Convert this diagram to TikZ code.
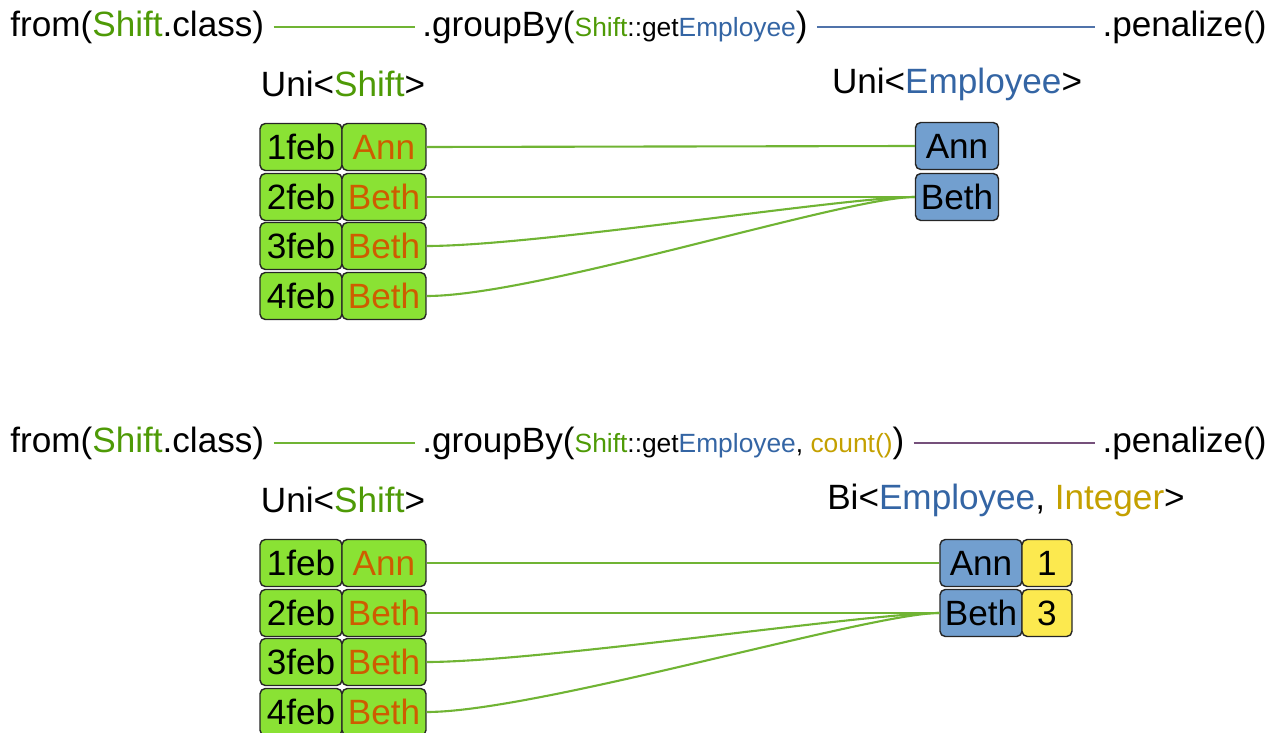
\documentclass[tikz,border=0pt]{standalone}
\usepackage{fontspec}
\setmainfont{Liberation Sans}
\definecolor{shiftgreen}{HTML}{4E9A06}
\definecolor{shiftfill}{HTML}{8AE234}
\definecolor{empblue}{HTML}{3465A4}
\definecolor{empfill}{HTML}{729FCF}
\definecolor{nameorange}{HTML}{CE5C00}
\definecolor{intyellow}{HTML}{C4A000}
\definecolor{intfill}{HTML}{FCE94F}
\definecolor{linkgreen}{RGB}{112,180,52}
\definecolor{flowblue}{RGB}{80,115,170}
\definecolor{flowpurple}{HTML}{75507B}
\newcommand{\codesmall}{\fontsize{15}{18}\selectfont}

\begin{document}
\begin{tikzpicture}
[
    x=0.02cm, y=-0.02cm,
    every node/.style={font=\fontsize{20}{24}\selectfont},
    code/.style={inner sep=0pt},
    flow/.style={line width=0.9pt, shorten <=0.18cm, shorten >=0.14cm},
    link/.style={draw=linkgreen, line width=1.2pt},
    cell/.style={draw=black!85, line width=0.8pt, rounded corners=3pt, minimum height=0.94cm, inner sep=0pt},
    datecell/.style={cell, fill=shiftfill, minimum width=1.64cm},
    namecell/.style={cell, fill=shiftfill, text=nameorange, minimum width=1.68cm},
    empcell/.style={cell, fill=empfill},
    intcell/.style={cell, fill=intfill, minimum width=1cm}
]
    \useasboundingbox (0,0) rectangle (1277,733);

    % uni stream: groupBy with a key only
    \begin{scope}[name prefix=top-]
        \node[code, anchor=west] (from) at (10,27) {from(\textcolor{shiftgreen}{Shift}.class)};
        \node[code, anchor=west] (group) at (422,27) {.groupBy({\codesmall\textcolor{shiftgreen}{Shift}::get\textcolor{empblue}{Employee}})};
        \node[code, anchor=east] (pen) at (1267,27) {.penalize()};
        \draw[flow, linkgreen] (from) -- (group);
        \draw[flow, flowblue] (group) -- (pen);

        \node (in) at (343,84) {Uni<\textcolor{shiftgreen}{Shift}>};
        \node (out) at (957,84) {Uni<\textcolor{empblue}{Employee}>};

        \foreach \d/\n/\y [count=\i] in {1feb/Ann/147, 2feb/Beth/197, 3feb/Beth/246, 4feb/Beth/296} {
            \node[datecell] (d\i) at (301,\y) {\d};
            \node[namecell] (s\i) at (384,\y) {\n};
        }
        \node[empcell, minimum width=1.66cm] (ann) at (957,146) {Ann};
        \node[empcell, minimum width=1.66cm] (beth) at (957,197) {Beth};

        \draw[link] (s1.east) -- (ann.west);
        \draw[link] (s2.east) -- (beth.west);
        \draw[link] (s3.east) .. controls +(110,0) and +(-70,0) .. (beth.west);
        \draw[link] (s4.east) .. controls +(110,0) and +(-70,0) .. (beth.west);
    \end{scope}

    % bi stream: groupBy with a key and count()
    \begin{scope}[shift={(0,416)}, name prefix=bot-]
        \node[code, anchor=west] (from) at (10,27) {from(\textcolor{shiftgreen}{Shift}.class)};
        \node[code, anchor=west] (group) at (422,27) {.groupBy({\codesmall\textcolor{shiftgreen}{Shift}::get\textcolor{empblue}{Employee}, \textcolor{intyellow}{count()}})};
        \node[code, anchor=east] (pen) at (1267,27) {.penalize()};
        \draw[flow, linkgreen] (from) -- (group);
        \draw[flow, flowpurple] (group) -- (pen);

        \node (in) at (343,84) {Uni<\textcolor{shiftgreen}{Shift}>};
        \node (out) at (1006,84) {Bi<\textcolor{empblue}{Employee}, \textcolor{intyellow}{Integer}>};

        \foreach \d/\n/\y [count=\i] in {1feb/Ann/147, 2feb/Beth/197, 3feb/Beth/246, 4feb/Beth/296} {
            \node[datecell] (d\i) at (301,\y) {\d};
            \node[namecell] (s\i) at (384,\y) {\n};
        }
        \node[empcell, minimum width=1.64cm] (ann) at (981,147) {Ann};
        \node[intcell] (n1) at (1047,147) {1};
        \node[empcell, minimum width=1.64cm] (beth) at (981,197) {Beth};
        \node[intcell] (n2) at (1047,197) {3};

        \draw[link] (s1.east) -- (ann.west);
        \draw[link] (s2.east) -- (beth.west);
        \draw[link] (s3.east) .. controls +(110,0) and +(-70,0) .. (beth.west);
        \draw[link] (s4.east) .. controls +(110,0) and +(-70,0) .. (beth.west);
    \end{scope}
\end{tikzpicture}
\end{document}
